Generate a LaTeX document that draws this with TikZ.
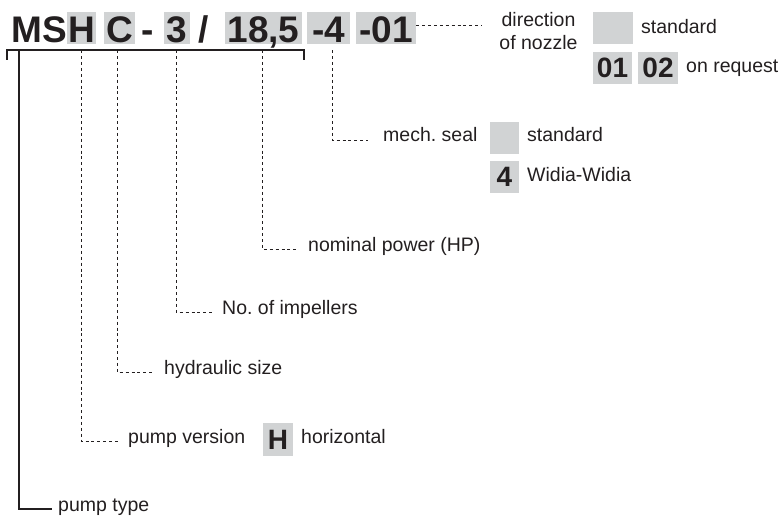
\documentclass[tikz,border=0pt]{standalone}
\usepackage{fontspec}
\setmainfont{Liberation Sans}
\definecolor{boxgrey}{HTML}{D1D3D4}
\definecolor{ink}{HTML}{231F20}
\begin{document}
\frenchspacing
\begin{tikzpicture}[x=1pt,y=-1pt,
  codetxt/.style={inner sep=0pt,text=ink,font=\fontsize{37}{37}\selectfont\bfseries},
  codebox/.style={codetxt,fill=boxgrey,minimum height=32pt,text height=31pt,text depth=1pt},
  keybox/.style={inner sep=0pt,fill=boxgrey,text=ink,minimum height=32pt,font=\fontsize{28}{28}\selectfont\bfseries},
  lbl/.style={inner sep=0pt,text=ink,anchor=mid west,font=\fontsize{19.5}{23}\selectfont},
  dashline/.style={draw=ink,line width=0.9pt,dash pattern=on 3pt off 2.9pt},
  solidline/.style={draw=ink,line width=1.2pt}]
\useasboundingbox (0,0) rectangle (782,519);
% code line
\node[codetxt,anchor=base west] (cms) at (11,43) {MS};
\node[codebox,minimum width=29pt] (ch) at (81.5,28) {H};
\node[codebox,minimum width=31pt] (cc) at (119.5,28) {C};
\node[codetxt,anchor=base] (cdash) at (147.5,43) {-};
\node[codebox,minimum width=26pt] (c3) at (177,28) {3};
\node[codetxt,anchor=base] (cslash) at (203.5,43) {/};
\node[codebox,minimum width=77pt] (c185) at (263.5,28) {18,5};
\node[codebox,minimum width=43pt] (c4) at (328.5,28) {-4};
\node[codebox,minimum width=60pt] (c01) at (386,28) {-01};
% bracket
\coordinate (bl) at (7,50);
\coordinate (br) at (304,50);
\draw[solidline] ([yshift=-10pt]bl) -- (bl) -- (br) -- ([yshift=-10pt]br);
% labels
\node[lbl] (ptype) at (58,509) {pump type};
\node[lbl] (pver) at (128,441) {pump version};
\node[lbl] (hsize) at (164,372) {hydraulic size};
\node[lbl] (nimp) at (222,312) {No. of impellers};
\node[lbl] (npow) at (308,249) {nominal power (HP)};
\node[lbl] (mseal) at (383,139) {mech. seal};
\node[inner sep=0pt,text=ink,align=center,font=\fontsize{19.5}{23}\selectfont] (dnoz) at (538.5,31.5) {direction\\of nozzle};
% option boxes
\node[keybox,minimum width=30pt,minimum height=33pt] (kh) at (278,439.5) {H};
\node[lbl] (khor) at (301,441) {horizontal};
\node[keybox,minimum width=29pt] (ks1) at (504.5,138) {};
\node[lbl] (kstd1) at (527,139) {standard};
\node[keybox,minimum width=29pt] (k4) at (504.5,177) {4};
\node[lbl] (kwid) at (527,179) {Widia-Widia};
\node[keybox,minimum width=40pt] (ks2) at (613,28) {};
\node[lbl] (kstd2) at (641,30.5) {standard};
\node[keybox,minimum width=39pt] (k01) at (612.5,68) {01};
\node[keybox,minimum width=40pt] (k02) at (658,68) {02};
\node[lbl] (kreq) at (686,69.5) {on request};
% connectors
\coordinate (ptop) at (19,50);
\draw[solidline] (ptop) |- ([xshift=-6pt]ptype.mid west);
\draw[dashline] ([xshift=-0.5pt,yshift=-6pt]ch.south) |- ([xshift=-10pt]pver.mid west);
\draw[dashline] ([xshift=-2.5pt,yshift=-6pt]cc.south) |- ([xshift=-10pt]hsize.mid west);
\draw[dashline] ([xshift=-1pt,yshift=-6pt]c3.south) |- ([xshift=-9pt]nimp.mid west);
\draw[dashline] ([xshift=-1.5pt,yshift=-6pt]c185.south) |- ([xshift=-10pt]npow.mid west);
\draw[dashline] ([xshift=3.5pt,yshift=-6pt]c4.south) |- ([xshift=-15pt,yshift=-1pt]mseal.mid west);
\coordinate (dnend) at (482,25);
\draw[dashline] (c01.east |- dnend) -- (dnend);
\end{tikzpicture}
\end{document}
